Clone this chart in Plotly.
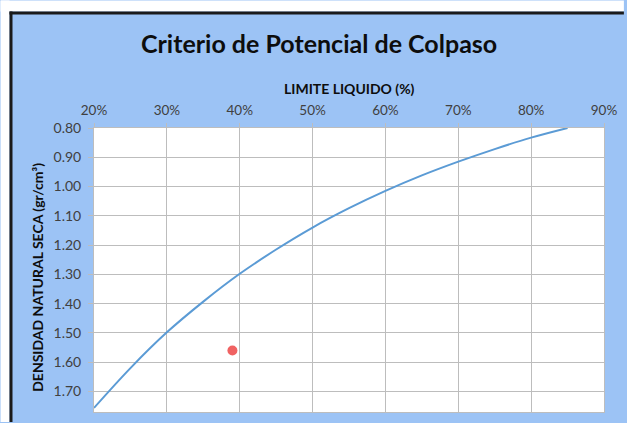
import plotly.graph_objects as go

# Collapse-potential criterion curve: liquid limit vs natural dry density
limite_liquido = [0.20, 0.25, 0.30, 0.35, 0.40, 0.45, 0.50, 0.55, 0.60, 0.65, 0.70, 0.75, 0.80, 0.85]
densidad_curva = [1.756, 1.620, 1.498, 1.393, 1.298, 1.215, 1.140, 1.074, 1.015, 0.962, 0.915, 0.872, 0.833, 0.800]

# Sample point
muestra_ll = [0.39]
muestra_densidad = [1.56]

x_ticks = [0.2, 0.3, 0.4, 0.5, 0.6, 0.7, 0.8, 0.9]
y_ticks = [0.8, 0.9, 1.0, 1.1, 1.2, 1.3, 1.4, 1.5, 1.6, 1.7]

W, H = 627, 423
ML, MR, MT, MB = 94, 20, 128, 10
BG = "#9CC3F5"
GRID = "#BDBDBD"
TXT = "#404040"
FONT = "Lato"

fig = go.Figure()
fig.add_trace(go.Scatter(
    x=limite_liquido, y=densidad_curva, mode="lines",
    line=dict(color="#5B9BD5", width=2, shape="spline", smoothing=1.0),
    showlegend=False, hoverinfo="skip",
))
fig.add_trace(go.Scatter(
    x=muestra_ll, y=muestra_densidad, mode="markers",
    marker=dict(color="#F06262", size=10),
    showlegend=False,
))

fig.update_layout(
    width=W, height=H,
    margin=dict(l=ML, r=MR, t=MT, b=MB, pad=0),
    paper_bgcolor=BG,
    plot_bgcolor="white",
    font=dict(family=FONT, size=12, color=TXT),
    xaxis=dict(
        side="top", range=[0.2, 0.9], tickvals=x_ticks, tickformat=".0%",
        showgrid=True, gridcolor=GRID, gridwidth=1, zeroline=False,
        showline=True, linecolor=GRID, mirror=True,
        ticks="outside", ticklen=4, tickcolor=GRID, ticklabelstandoff=3,
        tickfont=dict(family=FONT, size=13.5, color=TXT),
    ),
    yaxis=dict(
        range=[1.77, 0.80], tickvals=y_ticks, tickformat=".2f",
        showgrid=True, gridcolor=GRID, gridwidth=1, zeroline=False,
        showline=True, linecolor=GRID, mirror=True,
        ticks="outside", ticklen=5, tickcolor=GRID, ticklabelstandoff=4,
        tickfont=dict(family=FONT, size=14, color=TXT),
    ),
)

plot_w = W - ML - MR
plot_h = H - MT - MB

def px_x(p):
    return (p - ML) / plot_w

def px_y(p):
    return (H - MB - p) / plot_h

# White page margin with the dark chart frame on top/left
fig.add_shape(type="rect", xref="paper", yref="paper",
              x0=px_x(0), x1=px_x(W), y0=px_y(11), y1=px_y(0),
              fillcolor="white", line_width=0, layer="above")
fig.add_shape(type="rect", xref="paper", yref="paper",
              x0=px_x(0), x1=px_x(9), y0=px_y(H), y1=px_y(0),
              fillcolor="white", line_width=0, layer="above")
fig.add_shape(type="line", xref="paper", yref="paper",
              x0=px_x(9), x1=px_x(W), y0=px_y(12.5), y1=px_y(12.5),
              line=dict(color="#1a1a1a", width=3), layer="above")
fig.add_shape(type="line", xref="paper", yref="paper",
              x0=px_x(10.5), x1=px_x(10.5), y0=px_y(11), y1=px_y(H),
              line=dict(color="#1a1a1a", width=3), layer="above")

fig.add_annotation(
    text="<b>Criterio de Potencial de Colpaso</b>",
    xref="paper", yref="paper", x=px_x(320), y=px_y(43),
    xanchor="center", yanchor="middle", showarrow=False,
    font=dict(family=FONT, size=25, color="#0d0d0d"),
)
fig.add_annotation(
    text="<b>LIMITE LIQUIDO (%)</b>",
    xref="paper", yref="paper", x=0.5, y=px_y(88),
    xanchor="center", yanchor="middle", showarrow=False,
    font=dict(family=FONT, size=14, color="#0d0d0d"),
)
fig.add_annotation(
    text="<b>DENSIDAD NATURAL SECA (gr/cm³)</b>",
    xref="paper", yref="paper", x=px_x(37), y=px_y(278),
    xanchor="center", yanchor="middle", textangle=-90, showarrow=False,
    font=dict(family=FONT, size=14, color="#0d0d0d"),
)

fig.write_html("out.html")
